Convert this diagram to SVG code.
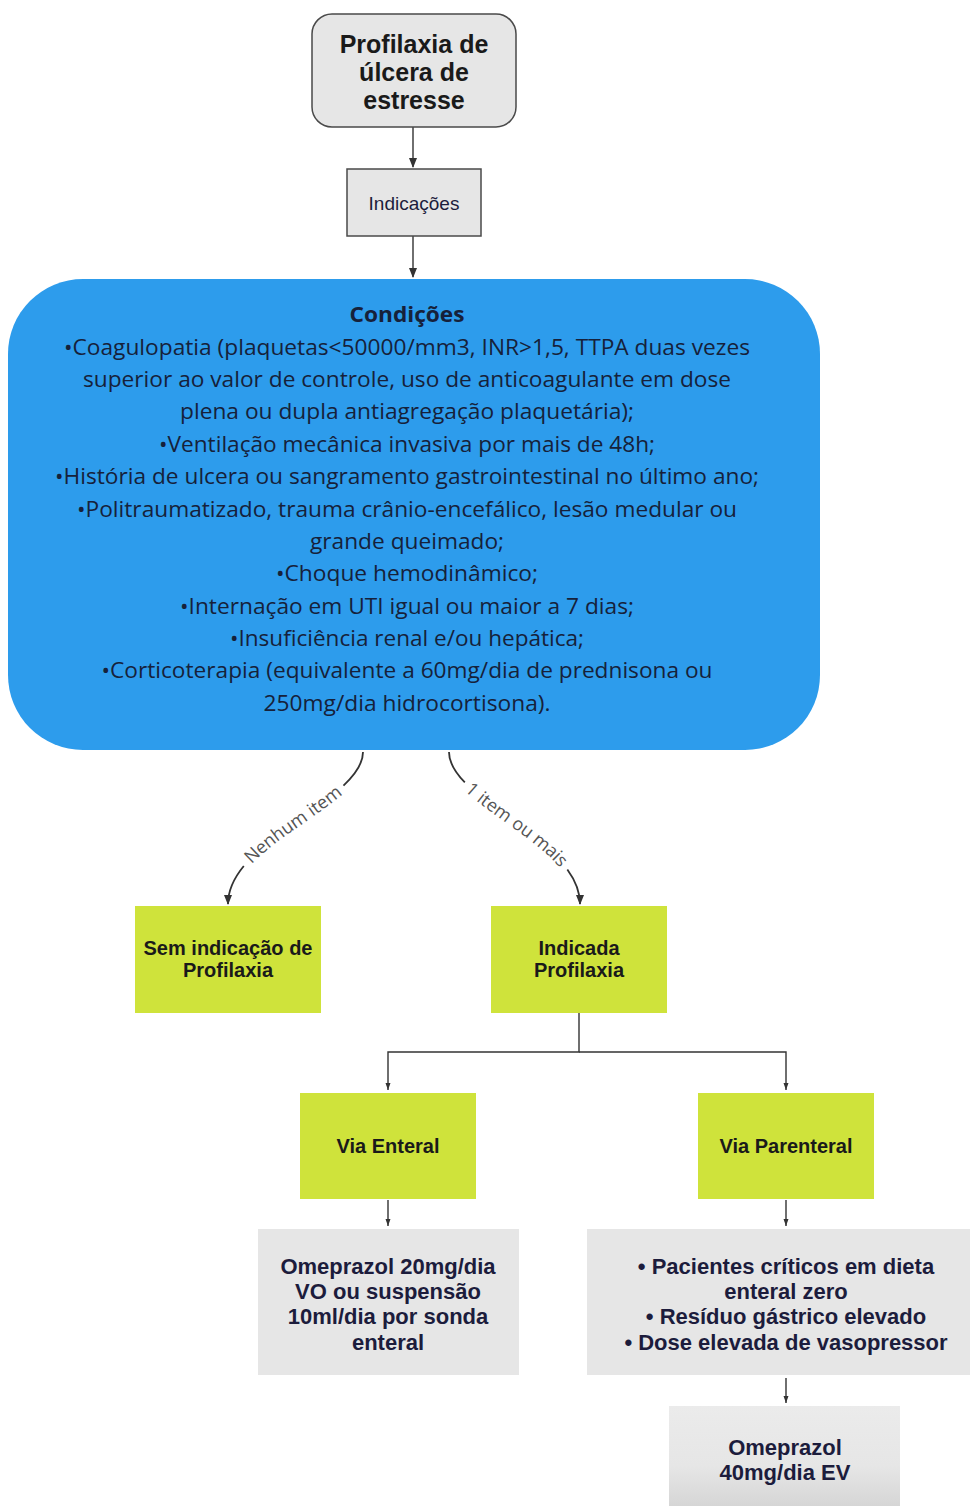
<svg xmlns="http://www.w3.org/2000/svg" xmlns:xlink="http://www.w3.org/1999/xlink" width="970" height="1506" viewBox="0 0 970 1506">
<style>
.conn{fill:none;stroke:#333;stroke-width:1.4}
.curve{fill:none;stroke:#333;stroke-width:1.8}
.bold{font-family:"Liberation Sans",Arial,sans-serif;font-weight:bold;text-anchor:middle}
.navy{fill:#1c1c3c}
.dark{fill:#1a1a1a}
.cond{font-family:"Open Sans","DejaVu Sans",sans-serif;font-size:22px;fill:#16213a;text-anchor:middle}
.lbl{font-family:"Open Sans","DejaVu Sans",sans-serif;font-size:18px;fill:#555;text-anchor:middle}
.green{fill:#cfe33b}
.gray{fill:#e6e6e6}
</style>
<defs>
<marker id="ah" markerWidth="10" markerHeight="10" refX="9" refY="5" orient="auto" markerUnits="userSpaceOnUse" viewBox="0 0 10 10">
<path d="M0,1 L10,5 L0,9 Z" fill="#333"/>
</marker>
<marker id="ahs" markerWidth="7" markerHeight="6" refX="7" refY="3" orient="auto" markerUnits="userSpaceOnUse" viewBox="0 0 7 6">
<path d="M0,0.5 L7,3 L0,5.5 Z" fill="#333"/>
</marker>
<linearGradient id="gb" x1="0" y1="0" x2="0" y2="1">
<stop offset="0" stop-color="#ebebeb"/>
<stop offset="0.6" stop-color="#e6e6e6"/>
<stop offset="1" stop-color="#d6d6d6"/>
</linearGradient>
<path id="lp" d="M228,900 C228,840 363,800 363,752"/>
<path id="rp" d="M449,752 C449,800 580,840 580,900"/>
</defs>

<g id="connectors">
<line class="conn" x1="413" y1="127" x2="413" y2="167" marker-end="url(#ah)"/>
<line class="conn" x1="413" y1="236" x2="413" y2="277" marker-end="url(#ah)"/>
<path class="curve" d="M363,752 C363,800 228,840 228,904" pathLength="100" stroke-dasharray="19 61 20 20" marker-end="url(#ah)"/>
<path class="curve" d="M449,752 C449,800 580,840 580,904" pathLength="100" stroke-dasharray="17 65 18 20" marker-end="url(#ah)"/>
<polyline class="conn" points="579,1013 579,1052 388,1052 388,1090" marker-end="url(#ahs)"/>
<polyline class="conn" points="579,1052 786,1052 786,1090" marker-end="url(#ahs)"/>
<line class="conn" x1="388" y1="1200" x2="388" y2="1226" marker-end="url(#ahs)"/>
<line class="conn" x1="786" y1="1200" x2="786" y2="1226" marker-end="url(#ahs)"/>
<line class="conn" x1="786" y1="1378" x2="786" y2="1403" marker-end="url(#ahs)"/>
<text class="lbl" dy="6"><textPath href="#lp" xlink:href="#lp" startOffset="50%">Nenhum item</textPath></text>
<text class="lbl" dy="6"><textPath href="#rp" xlink:href="#rp" startOffset="50%">1 item ou mais</textPath></text>
</g>

<g id="title">
<rect x="312" y="14" width="204" height="113" rx="20" fill="#e6e6e6" stroke="#4a4a4a" stroke-width="1.5"/>
<text class="bold dark" font-size="25"><tspan x="414" y="53">Profilaxia de</tspan><tspan x="414" y="81">úlcera de</tspan><tspan x="414" y="109">estresse</tspan></text>
</g>

<g id="indicacoes">
<rect x="347" y="169" width="134" height="67" fill="#e6e6e6" stroke="#4a4a4a" stroke-width="1.5"/>
<text x="414" y="210" font-family="Liberation Sans,Arial,sans-serif" font-size="19" text-anchor="middle" fill="#1c1c3c">Indicações</text>
</g>

<g id="condicoes">
<rect x="8" y="279" width="812" height="471" rx="75" fill="#2d9cec"/>
<text class="cond" x="407" y="322" font-weight="bold" textLength="115" lengthAdjust="spacingAndGlyphs">Condições</text>
<text class="cond" x="407" y="355" textLength="686" lengthAdjust="spacingAndGlyphs">•Coagulopatia (plaquetas&lt;50000/mm3, INR&gt;1,5, TTPA duas vezes</text>
<text class="cond" x="407" y="387" textLength="648" lengthAdjust="spacingAndGlyphs">superior ao valor de controle, uso de anticoagulante em dose</text>
<text class="cond" x="407" y="419" textLength="454" lengthAdjust="spacingAndGlyphs">plena ou dupla antiagregação plaquetária);</text>
<text class="cond" x="407" y="452" textLength="496" lengthAdjust="spacingAndGlyphs">•Ventilação mecânica invasiva por mais de 48h;</text>
<text class="cond" x="407" y="484" textLength="704" lengthAdjust="spacingAndGlyphs">•História de ulcera ou sangramento gastrointestinal no último ano;</text>
<text class="cond" x="407" y="517" textLength="660" lengthAdjust="spacingAndGlyphs">•Politraumatizado, trauma crânio-encefálico, lesão medular ou</text>
<text class="cond" x="407" y="549" textLength="194" lengthAdjust="spacingAndGlyphs">grande queimado;</text>
<text class="cond" x="407" y="581" textLength="262" lengthAdjust="spacingAndGlyphs">•Choque hemodinâmico;</text>
<text class="cond" x="407" y="614" textLength="454" lengthAdjust="spacingAndGlyphs">•Internação em UTI igual ou maior a 7 dias;</text>
<text class="cond" x="407" y="646" textLength="354" lengthAdjust="spacingAndGlyphs">•Insuficiência renal e/ou hepática;</text>
<text class="cond" x="407" y="678" textLength="611" lengthAdjust="spacingAndGlyphs">•Corticoterapia (equivalente a 60mg/dia de prednisona ou</text>
<text class="cond" x="407" y="711" textLength="287" lengthAdjust="spacingAndGlyphs">250mg/dia hidrocortisona).</text>
</g>

<g id="sem-indicacao">
<rect class="green" x="135" y="906" width="186" height="107"/>
<text class="bold dark" font-size="20"><tspan x="228" y="955">Sem indicação de</tspan><tspan x="228" y="977">Profilaxia</tspan></text>
</g>

<g id="indicada">
<rect class="green" x="491" y="906" width="176" height="107"/>
<text class="bold dark" font-size="20"><tspan x="579" y="955">Indicada</tspan><tspan x="579" y="977">Profilaxia</tspan></text>
</g>

<g id="via-enteral">
<rect class="green" x="300" y="1093" width="176" height="106"/>
<text class="bold dark" font-size="20" x="388" y="1153">Via Enteral</text>
</g>

<g id="via-parenteral">
<rect class="green" x="698" y="1093" width="176" height="106"/>
<text class="bold dark" font-size="20" x="786" y="1153">Via Parenteral</text>
</g>

<g id="omeprazol-20">
<rect class="gray" x="258" y="1229" width="261" height="146"/>
<text class="bold navy" font-size="22"><tspan x="388" y="1274">Omeprazol 20mg/dia</tspan><tspan x="388" y="1299">VO ou suspensão</tspan><tspan x="388" y="1324">10ml/dia por sonda</tspan><tspan x="388" y="1350">enteral</tspan></text>
</g>

<g id="parenteral-criterios">
<rect class="gray" x="587" y="1229" width="383" height="146"/>
<text class="bold navy" font-size="22"><tspan x="786" y="1274">• Pacientes críticos em dieta</tspan><tspan x="786" y="1299">enteral zero</tspan><tspan x="786" y="1324">• Resíduo gástrico elevado</tspan><tspan x="786" y="1350">• Dose elevada de vasopressor</tspan></text>
</g>

<g id="omeprazol-40">
<rect x="669" y="1406" width="231" height="100" fill="url(#gb)"/>
<text class="bold navy" font-size="22"><tspan x="785" y="1455">Omeprazol</tspan><tspan x="785" y="1480">40mg/dia EV</tspan></text>
</g>
</svg>
